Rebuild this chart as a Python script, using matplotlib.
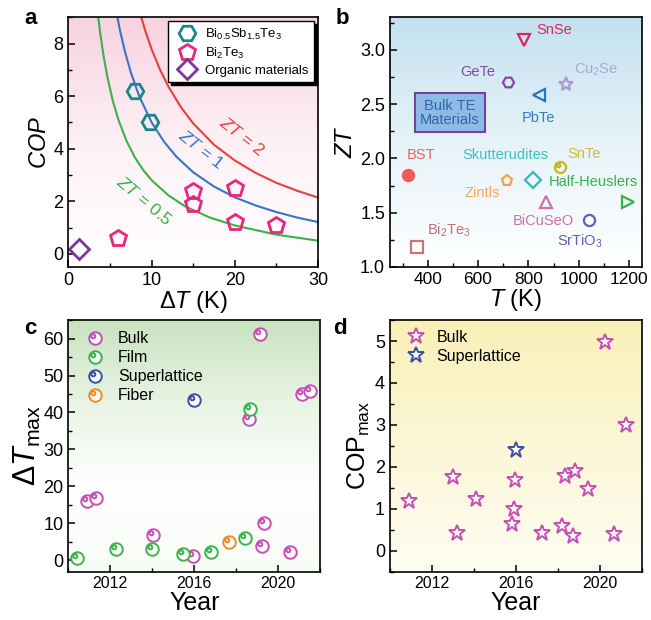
import numpy as np
import matplotlib
matplotlib.use("Agg")
import matplotlib.pyplot as plt
from matplotlib.path import Path
from matplotlib.colors import LinearSegmentedColormap
from matplotlib.ticker import MultipleLocator

plt.rcParams['font.family'] = ['Liberation Sans', 'DejaVu Sans']
plt.rcParams['mathtext.fontset'] = 'custom'
plt.rcParams['mathtext.rm'] = 'Liberation Sans'
plt.rcParams['mathtext.it'] = 'Liberation Sans:italic'
plt.rcParams['mathtext.bf'] = 'Liberation Sans:bold'
plt.rcParams['xtick.direction'] = 'in'
plt.rcParams['ytick.direction'] = 'in'
plt.rcParams['axes.linewidth'] = 1.2

# ---- panel a: COP vs dT ----
bst_dT = [8, 9.8]
bst_cop = [6.2, 5.0]
bt_dT = [6, 15, 15, 20, 20, 25]
bt_cop = [0.6, 2.4, 1.9, 2.5, 1.2, 1.1]
org_dT = [1.3]
org_cop = [0.2]

# curves
zt05_dT = [3.4, 3.8, 4.2, 4.7, 5.3, 6, 7, 8, 9, 10, 12, 14, 17, 20, 25, 30]
zt05_cop = [9.5, 8.43, 7.56, 6.69, 5.86, 5.1, 4.28, 3.66, 3.18, 2.8, 2.23, 1.81, 1.38, 1.08, 0.73, 0.5]
zt1_dT = [5.7, 6.2, 6.8, 7.5, 8.5, 10, 11.5, 13, 15, 17.5, 20, 22.5, 25, 27.5, 30]
zt1_cop = [9.29, 8.49, 7.68, 6.9, 6.0, 5.0, 4.26, 3.69, 3.1, 2.56, 2.15, 1.84, 1.59, 1.38, 1.21]
zt2_dT = [8.6, 9.3, 10, 11, 12, 13.5, 15, 17.5, 20, 22.5, 25, 27.5, 30]
zt2_cop = [9.16, 8.42, 7.78, 7.01, 6.37, 5.59, 4.96, 4.15, 3.55, 3.08, 2.7, 2.4, 2.14]

# ---- panel b: ZT vs T ----
mat_names = ['SnSe', 'GeTe', 'Cu$_2$Se', 'PbTe', 'BST', 'Skutterudites', 'SnTe',
             'Zintls', 'Half-Heuslers', 'BiCuSeO', 'SrTiO$_3$', 'Bi$_2$Te$_3$']
mat_T = [783, 721, 951, 843, 321, 820, 925, 717, 1194, 870, 1041, 358]
mat_ZT = [3.09, 2.70, 2.69, 2.58, 1.85, 1.80, 1.92, 1.79, 1.60, 1.60, 1.43, 1.18]
mat_label_T = [901, 597, 1069, 839, 374, 709, 1023, 617, 1057, 859, 1004, 485]
mat_label_ZT = [3.18, 2.80, 2.82, 2.37, 2.03, 2.03, 2.04, 1.68, 1.78, 1.42, 1.24, 1.34]

# ---- panel c: dTmax vs year ----
c_bulk_year = [2010.88, 2011.31, 2014.05, 2015.92, 2019.12, 2018.61, 2019.31, 2019.22, 2020.56, 2021.15, 2021.52]
c_bulk_val = [16.1, 17.0, 7.0, 1.1, 61.1, 38.2, 10.0, 4.0, 2.2, 45.0, 45.7]
c_film_year = [2010.4, 2012.29, 2013.97, 2015.47, 2016.8, 2018.4, 2018.64]
c_film_val = [0.6, 3.0, 3.1, 1.8, 2.2, 6.1, 40.9]
c_sl_year = [2015.97]
c_sl_val = [43.4]
c_fiber_year = [2017.65]
c_fiber_val = [4.9]

# ---- panel d: COPmax vs year ----
d_bulk_year = [2010.91, 2013.01, 2013.2, 2014.11, 2015.81, 2015.92, 2015.95, 2017.23,
               2018.21, 2018.37, 2018.8, 2018.75, 2019.44, 2020.24, 2020.69, 2021.25]
d_bulk_val = [1.19, 1.76, 0.43, 1.22, 0.64, 0.99, 1.68, 0.42,
              0.59, 1.78, 1.9, 0.34, 1.48, 4.98, 0.40, 3.0]
d_sl_year = [2016.0]
d_sl_val = [2.39]


def grad_bg(ax, colors):
    cmap = LinearSegmentedColormap.from_list('g', colors)
    ax.imshow(np.linspace(0, 1, 256).reshape(-1, 1), cmap=cmap, origin='lower',
              extent=[0, 1, 0, 1], transform=ax.transAxes, aspect='auto',
              interpolation='bicubic', zorder=-1)


def style(ax, xminor, yminor, xsize=13, ysize=13):
    ax.xaxis.set_minor_locator(MultipleLocator(xminor))
    ax.yaxis.set_minor_locator(MultipleLocator(yminor))
    ax.tick_params(which='major', length=5, width=1.1, top=False, right=False)
    ax.tick_params(which='minor', length=3, width=1.0, top=False, right=False)
    ax.tick_params(axis='x', labelsize=xsize)
    ax.tick_params(axis='y', labelsize=ysize)


ring = Path.make_compound_path(Path.circle((0, 0), 1.0), Path.circle((-0.35, 0.35), 0.32))

fig = plt.figure(figsize=(6.51, 6.2), dpi=100)
ax_a = fig.add_axes([0.1052, 0.5694, 0.3833, 0.4027])
ax_b = fig.add_axes([0.5990, 0.5694, 0.3866, 0.4027])
ax_c = fig.add_axes([0.1049, 0.0782, 0.3870, 0.4056])
ax_d = fig.add_axes([0.5990, 0.0782, 0.3866, 0.4056])

# panel a
grad_bg(ax_a, ['#ffffff', '#fdf1f5', '#f7d2df'])
ax_a.plot(zt05_dT, zt05_cop, color='#3cb04a', lw=1.5)
ax_a.plot(zt1_dT, zt1_cop, color='#3b74c4', lw=1.5)
ax_a.plot(zt2_dT, zt2_cop, color='#e8403a', lw=1.5)
ax_a.plot(bst_dT, bst_cop, 'H', ms=12, mfc='none', mec='#17898a', mew=2, ls='none',
          label=r'Bi$_{0.5}$Sb$_{1.5}$Te$_3$')
ax_a.plot(bt_dT, bt_cop, 'p', ms=12, mfc='none', mec='#e8267a', mew=2, ls='none', label=r'Bi$_2$Te$_3$')
ax_a.plot(org_dT, org_cop, 'D', ms=10, mfc='none', mec='#7a3a9a', mew=2, ls='none', label='Organic materials')
ax_a.text(20.8, 4.45, r'$ZT$ = 2', color='#e8403a', fontsize=12.5, rotation=-38, ha='center', va='center')
ax_a.text(15.9, 3.98, r'$ZT$ = 1', color='#3b74c4', fontsize=12.5, rotation=-38, ha='center', va='center')
ax_a.text(9.15, 2.0, r'$ZT$ = 0.5', color='#3cb04a', fontsize=12.5, rotation=-40, ha='center', va='center')
ax_a.set_xlim(0, 30)
ax_a.set_ylim(-0.5, 9)
ax_a.set_xticks([0, 10, 20, 30])
ax_a.set_yticks([0, 2, 4, 6, 8])
style(ax_a, 5, 1)
ax_a.set_xlabel(r'$\Delta\mathit{T}$ (K)', fontsize=17, labelpad=0)
ax_a.set_ylabel(r'$\mathit{COP}$', fontsize=17, labelpad=2)
ax_a.legend(loc='upper right', fontsize=9.5, fancybox=False, edgecolor='k',
            shadow={'color': 'k', 'alpha': 1}, framealpha=1, borderpad=0.4,
            handletextpad=0.4, labelspacing=0.3, borderaxespad=0.3)

# panel b
grad_bg(ax_b, ['#ffffff', '#e6f3f9', '#c4e1ef'])
b_markers = ['v', 'H', '*', '<', 'o', 'D', ring, 'p', '>', '^', 'o', 's']
b_colors = ['#e0245e', '#7e4aa0', '#a89cd0', '#3070c0', '#f05a5a', '#34b5bd', '#c2b822',
            '#f5a050', '#3ab04a', '#d070b0', '#6a5cb8', '#c07878']
b_label_colors = ['#e0245e', '#7e4aa0', '#a9a6d6', '#3a78c0', '#f06060', '#40c0c0', '#c8c030',
                  '#f5a860', '#3bb04a', '#d070b0', '#6a5cb0', '#c07070']
for i in range(len(mat_names)):
    filled = mat_names[i] == 'BST'
    ax_b.plot(mat_T[i], mat_ZT[i], marker=b_markers[i], ms=8 if b_markers[i] != '*' else 10,
              mfc=b_colors[i] if filled else 'none', mec=b_colors[i], mew=1.6)
    ax_b.text(mat_label_T[i], mat_label_ZT[i], mat_names[i], color=b_label_colors[i],
              fontsize=10.5, ha='center', va='center')
ax_b.text(488, 2.42, 'Bulk TE\nMaterials', color='#2f65aa', fontsize=10.5, ha='center', va='center',
          linespacing=1.05,
          bbox=dict(boxstyle='square,pad=0.35', facecolor='#8dbbe4', edgecolor='#7b3fa0', lw=1.5))
ax_b.set_xlim(250, 1250)
ax_b.set_ylim(1.0, 3.3)
ax_b.set_xticks([400, 600, 800, 1000, 1200])
ax_b.set_yticks([1.0, 1.5, 2.0, 2.5, 3.0])
ax_b.set_yticklabels(['1.0', '1.5', '2.0', '2.5', '3.0'])
style(ax_b, 100, 0.25, xsize=12.5)
ax_b.set_xlabel(r'$\mathit{T}$ (K)', fontsize=17, labelpad=0)
ax_b.set_ylabel(r'$\mathit{ZT}$', fontsize=17, labelpad=2)

# panel c
grad_bg(ax_c, ['#f8fcf6', '#ffffff', '#e9f4e4', '#c9e3bf'])
kw = dict(ls='none', marker=ring, ms=9, mfc='white', mew=1.4)
ax_c.plot(c_bulk_year, c_bulk_val, mec='#c64fb4', label='Bulk', **kw)
ax_c.plot(c_film_year, c_film_val, mec='#3cb44a', label='Film', **kw)
ax_c.plot(c_sl_year, c_sl_val, mec='#3a4fa8', label='Superlattice', **kw)
ax_c.plot(c_fiber_year, c_fiber_val, mec='#f28a24', label='Fiber', **kw)
ax_c.set_xlim(2010, 2022)
ax_c.set_ylim(-3, 65)
ax_c.set_xticks([2012, 2016, 2020])
ax_c.set_yticks([0, 10, 20, 30, 40, 50, 60])
style(ax_c, 2, 5, xsize=11.5)
ax_c.set_xlabel('Year', fontsize=18, labelpad=0)
ax_c.set_ylabel(r'$\Delta\mathit{T}_{\rm max}$', fontsize=22, labelpad=0)
ax_c.legend(loc='upper left', fontsize=11.5, frameon=False, handletextpad=0.4,
            labelspacing=0.25, borderaxespad=0.3)

# panel d
grad_bg(ax_d, ['#fefdf3', '#fcf7d6', '#faf0b8'])
kw = dict(ls='none', marker='*', ms=12, mfc='white', mew=1.4)
ax_d.plot(d_bulk_year, d_bulk_val, mec='#c64fb4', label='Bulk', **kw)
ax_d.plot(d_sl_year, d_sl_val, mec='#3a4fa8', label='Superlattice', **kw)
ax_d.set_xlim(2010, 2022)
ax_d.set_ylim(-0.5, 5.5)
ax_d.set_xticks([2012, 2016, 2020])
ax_d.set_yticks([0, 1, 2, 3, 4, 5])
style(ax_d, 2, 0.5, xsize=11.5)
ax_d.set_xlabel('Year', fontsize=18, labelpad=0)
ax_d.set_ylabel(r'COP$_{\rm max}$', fontsize=18, labelpad=2)
ax_d.legend(loc='upper left', fontsize=11.5, frameon=False, handletextpad=0.3,
            labelspacing=0.25, borderaxespad=0.2)

for lab, x, y in [('a', 31, 19), ('b', 342, 18), ('c', 30, 328), ('d', 340, 328)]:
    fig.text(x / 651, 1 - y / 620, lab, fontsize=16, fontweight='bold', ha='center', va='center')

fig.savefig('out.png', dpi=100)
